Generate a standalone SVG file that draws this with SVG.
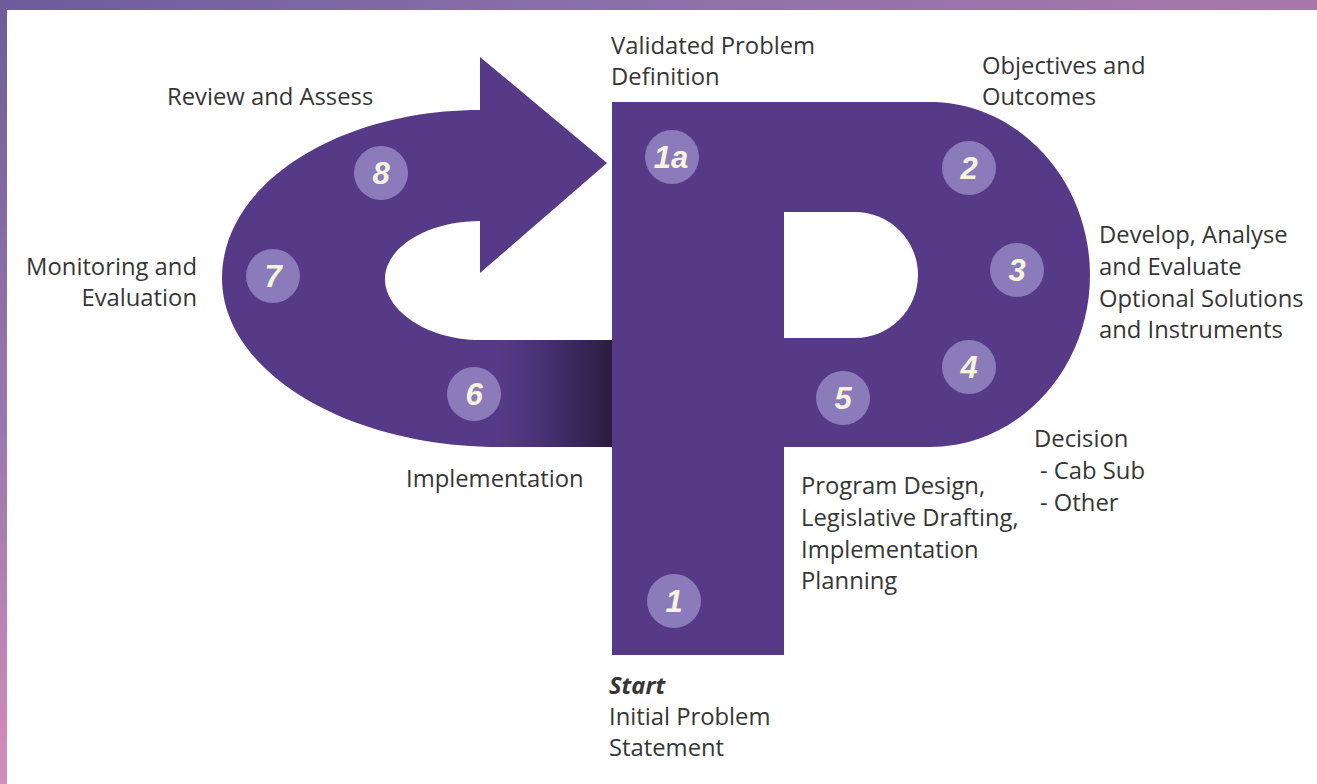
<svg xmlns="http://www.w3.org/2000/svg" width="1317" height="784" viewBox="0 0 1317 784">
  <defs>
    <linearGradient id="frame" x1="0" y1="0" x2="1" y2="0.35">
      <stop offset="0" stop-color="#6d5b9b"/>
      <stop offset="0.4" stop-color="#8a70aa"/>
      <stop offset="1" stop-color="#b07aaa"/>
    </linearGradient>
    <linearGradient id="leftStrip" x1="0" y1="0" x2="0" y2="1">
      <stop offset="0" stop-color="#6e5c9a"/>
      <stop offset="0.55" stop-color="#9a78ae"/>
      <stop offset="1" stop-color="#d48cba"/>
    </linearGradient>
    <linearGradient id="band" gradientUnits="userSpaceOnUse" x1="500" y1="0" x2="612" y2="0">
      <stop offset="0" stop-color="#573a87"/>
      <stop offset="0.45" stop-color="#452f70"/>
      <stop offset="1" stop-color="#2a1c40"/>
    </linearGradient>
    <style>
      .shape { fill: #573a87; }
      .badge { fill: #8b7bbb; }
      .num { font-family: "Liberation Sans", Arial, sans-serif; font-style: italic; font-weight: bold; font-size: 31px; fill: #f6f4df; text-anchor: middle; }
      .lbl { font-family: "Open Sans", "Liberation Sans", sans-serif; font-size: 23.8px; fill: #363636; }
      .r { text-anchor: end; }
    </style>
  </defs>

  <!-- background frame -->
  <rect x="0" y="0" width="1317" height="784" fill="url(#frame)"/>
  <rect x="0" y="0" width="7" height="784" fill="url(#leftStrip)"/>
  <rect x="7" y="10" width="1310" height="774" fill="#ffffff"/>

  <!-- loop arrow (connector) -->
  <g id="connectors">
    <path class="shape" fill-rule="evenodd" d="M480,110 C337,110 222,185 222,278 C222,371 346,447 500,447 L612,447 L612,340 L480,340 C428,340 385,311 385,279 C385,247 428,221 480,221 L480,273 L607,163 L480,57 Z"/>
    <rect x="499" y="340" width="113" height="107" fill="url(#band)"/>
  </g>

  <!-- P shape -->
  <g id="p-shape">
    <path class="shape" fill-rule="evenodd" d="M612,102 L930,102 C1018,102 1090,180 1090,275 C1090,370 1018,447 930,447 L784,447 L784,655 L612,655 Z M784,212 L855,212 A63,63 0 0 1 855,338 L784,338 Z"/>
  </g>

  <g id="step-1">
    <circle class="badge" cx="674" cy="601" r="27"/>
    <text class="num" x="674" y="612">1</text>
    <text class="lbl" x="609" y="694" font-weight="bold" font-style="italic">Start</text>
    <text class="lbl" x="609" y="725">Initial Problem</text>
    <text class="lbl" x="609" y="756">Statement</text>
  </g>

  <g id="step-1a">
    <circle class="badge" cx="672" cy="157" r="27"/>
    <text class="num" x="671" y="168">1a</text>
    <text class="lbl" x="611" y="54">Validated Problem</text>
    <text class="lbl" x="611" y="85">Definition</text>
  </g>

  <g id="step-2">
    <circle class="badge" cx="969" cy="168" r="27"/>
    <text class="num" x="969" y="179">2</text>
    <text class="lbl" x="982" y="74">Objectives and</text>
    <text class="lbl" x="982" y="105">Outcomes</text>
  </g>

  <g id="step-3">
    <circle class="badge" cx="1017" cy="270" r="27"/>
    <text class="num" x="1017" y="281">3</text>
    <text class="lbl" x="1099" y="243">Develop, Analyse</text>
    <text class="lbl" x="1099" y="275">and Evaluate</text>
    <text class="lbl" x="1099" y="307">Optional Solutions</text>
    <text class="lbl" x="1099" y="338">and Instruments</text>
  </g>

  <g id="step-4">
    <circle class="badge" cx="969" cy="367" r="27"/>
    <text class="num" x="969" y="378">4</text>
    <text class="lbl" x="1034" y="447">Decision</text>
    <text class="lbl" x="1040" y="479">- Cab Sub</text>
    <text class="lbl" x="1040" y="511">- Other</text>
  </g>

  <g id="step-5">
    <circle class="badge" cx="843" cy="398" r="27"/>
    <text class="num" x="843" y="409">5</text>
    <text class="lbl" x="801" y="494">Program Design,</text>
    <text class="lbl" x="801" y="526">Legislative Drafting,</text>
    <text class="lbl" x="801" y="558">Implementation</text>
    <text class="lbl" x="801" y="589">Planning</text>
  </g>

  <g id="step-6">
    <circle class="badge" cx="474" cy="394" r="27"/>
    <text class="num" x="474" y="405">6</text>
    <text class="lbl" x="406" y="487">Implementation</text>
  </g>

  <g id="step-7">
    <circle class="badge" cx="273" cy="276" r="27"/>
    <text class="num" x="273" y="287">7</text>
    <text class="lbl r" x="197" y="275">Monitoring and</text>
    <text class="lbl r" x="197" y="306">Evaluation</text>
  </g>

  <g id="step-8">
    <circle class="badge" cx="381" cy="173" r="27"/>
    <text class="num" x="381" y="184">8</text>
    <text class="lbl" x="167" y="105">Review and Assess</text>
  </g>
</svg>
